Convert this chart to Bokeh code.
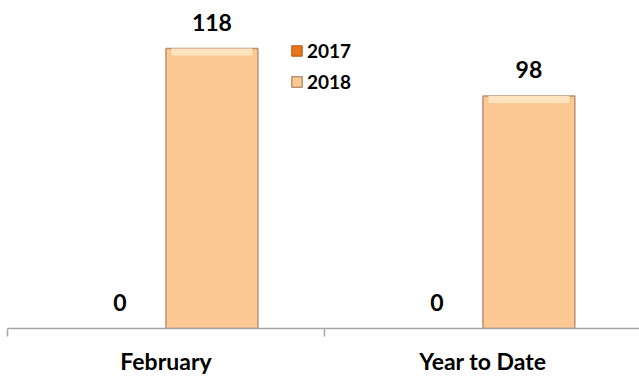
from bokeh.plotting import figure
from bokeh.models import ColumnDataSource, FixedTicker, Range1d, Legend, LegendItem
from bokeh.core.properties import value
from bokeh.embed import file_html
from bokeh.resources import INLINE

categories = ["February", "Year to Date"]
years = ["2017", "2018"]
values_2017 = [0, 0]
values_2018 = [118, 98]

FONT = "Lato"
centers = [i + 0.5 for i in range(len(categories))]
bw = 0.29

p = figure(width=639, height=377, output_backend="svg", toolbar_location=None,
           x_range=Range1d(0, 1.994), y_range=Range1d(0, 138.2),
           min_border_left=7, min_border_right=0, min_border_top=0, min_border_bottom=48)
p.background_fill_color = None
p.border_fill_color = None
p.outline_line_color = None
p.grid.visible = False
p.yaxis.visible = False

x17 = [c - bw / 2 for c in centers]
x18 = [c + bw / 2 for c in centers]
s17 = ColumnDataSource(dict(x=x17, top=values_2017, lab=[str(v) for v in values_2017]))
s18 = ColumnDataSource(dict(x=x18, top=values_2018, lab=[str(v) for v in values_2018],
                            hi=[v - 3 for v in values_2018]))

r17 = p.vbar(x="x", top="top", width=bw, source=s17, fill_color="#E8751A", line_color="#B8540A")
r18 = p.vbar(x="x", top="top", width=bw, source=s18, fill_color="#FCC995", line_color="#B89272",
             line_width=1.5)
# bevel highlight at top
p.vbar(x="x", top="top", bottom="hi", width=bw * 0.88, source=s18, fill_color="#FEE3BF",
       line_color=None)

for s in (s17, s18):
    p.text(x="x", y="top", text="lab", source=s, text_align="center", text_baseline="middle",
           y_offset=-26, text_font=value(FONT), text_font_style="bold", text_font_size="23px",
           text_color="#000000")

ax = p.xaxis[0]
ax.ticker = FixedTicker(ticks=centers, minor_ticks=[0, 1, 2])
ax.major_label_overrides = {c: n for c, n in zip(centers, categories)}
ax.major_tick_out = 0
ax.major_tick_in = 0
ax.minor_tick_out = 8
ax.minor_tick_in = 0
ax.axis_line_color = "#A6A6A6"
ax.axis_line_width = 1.5
ax.minor_tick_line_color = "#A6A6A6"
ax.minor_tick_line_width = 1.5
ax.major_label_standoff = 10
ax.major_label_text_font = FONT
ax.major_label_text_font_style = "bold"
ax.major_label_text_font_size = "23px"
ax.major_label_text_color = "#000000"

legend = Legend(items=[LegendItem(label=years[0], renderers=[r17]),
                       LegendItem(label=years[1], renderers=[r18])],
                location=(283, 235), orientation="vertical",
                glyph_width=13, glyph_height=13, label_height=22, spacing=8,
                padding=0, margin=0, label_standoff=4,
                label_text_font=FONT, label_text_font_style="bold", label_text_font_size="19px",
                label_text_color="#000000",
                border_line_color=None, background_fill_alpha=0)
p.add_layout(legend, "center")

open("out.html", "w").write(file_html(p, INLINE))
